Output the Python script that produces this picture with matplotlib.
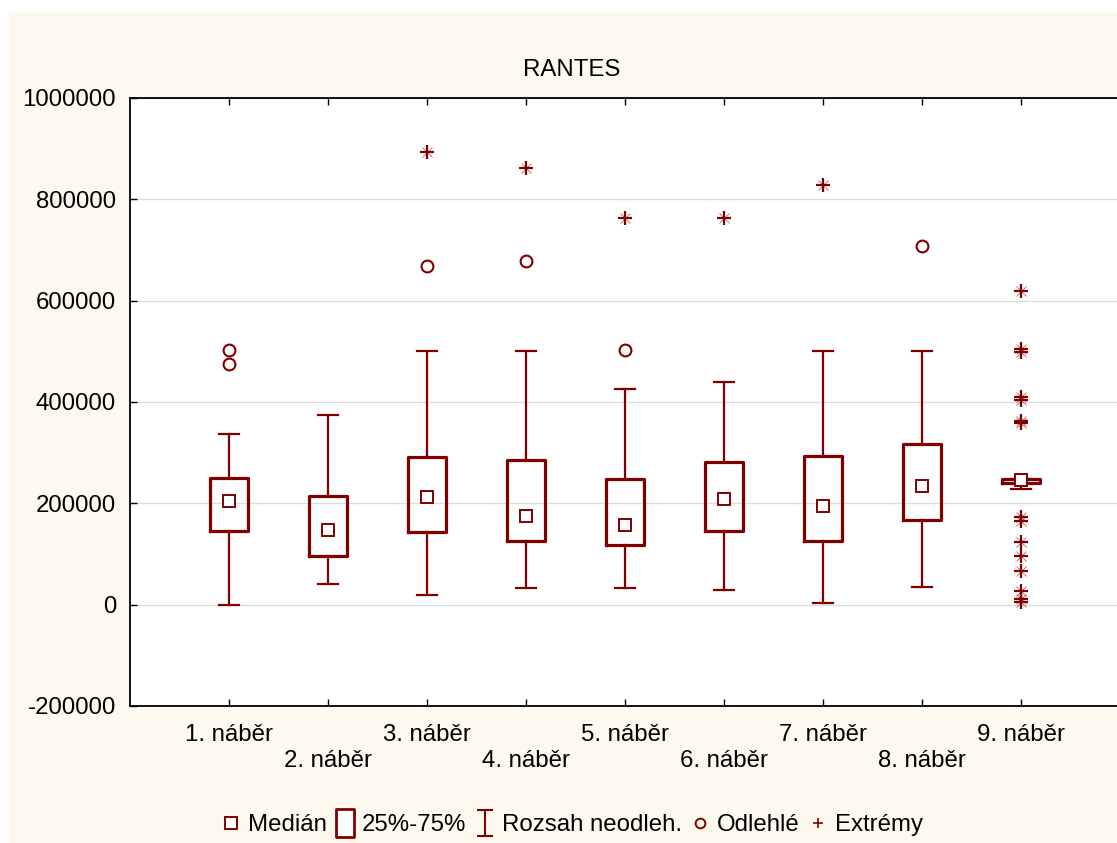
import matplotlib
matplotlib.use("Agg")
import matplotlib.pyplot as plt
from matplotlib.lines import Line2D
from matplotlib.patches import Rectangle
from matplotlib.path import Path

# ---------------- data ----------------
categories = ["1. náběr", "2. náběr", "3. náběr", "4. náběr", "5. náběr",
              "6. náběr", "7. náběr", "8. náběr", "9. náběr"]
medians = [205000, 148000, 213000, 175000, 158000, 209000, 195000, 235000, 247000]
q1 = [145000, 97000, 144000, 125000, 118000, 145000, 126000, 167000, 240000]
q3 = [250000, 214000, 292000, 285000, 249000, 282000, 293000, 318000, 249000]
whisker_low = [0, 40000, 19000, 32000, 33000, 29000, 3000, 35000, 228000]
whisker_high = [336000, 374000, 500000, 500000, 425000, 440000, 500000, 500000, 249000]
outliers = [[502000, 475000], [], [668000], [678000], [502000], [], [], [707000], []]
extremes = [[], [], [893000], [862000], [763000], [763000], [829000], [],
            [619000, 505000, 499000, 410000, 403000, 362000, 358000,
             173000, 166000, 124000, 97000, 67000, 27000, 12000, 5000]]
yticks = [-200000, 0, 200000, 400000, 600000, 800000, 1000000]
title = "RANTES"
legend_labels = ["Medián", "25%-75%", "Rozsah neodleh.", "Odlehlé", "Extrémy"]

# ---------------- style ----------------
RED = "#800000"
CREAM = "#FDF9EF"
W, H = 1117, 843
FS = 17.3
plt.rcParams["font.family"] = ["Liberation Sans", "DejaVu Sans"]
plt.rcParams["font.size"] = FS

fig = plt.figure(figsize=(W / 100, H / 100), dpi=100, facecolor="white")
fig.patches.append(Rectangle((9 / W, 0), 1 - 9 / W, 1 - 12 / H,
                             transform=fig.transFigure, facecolor=CREAM,
                             edgecolor="none", zorder=-10))

left, right, top, bottom = 130, 1120, 98, 706
ax = fig.add_axes([left / W, 1 - bottom / H, (right - left) / W, (bottom - top) / H])
ax.set_facecolor("white")

positions = list(range(1, len(categories) + 1))
stats = []
for i in range(len(categories)):
    stats.append(dict(med=medians[i], q1=q1[i], q3=q3[i], whislo=whisker_low[i],
                      whishi=whisker_high[i], mean=medians[i], fliers=[]))

ax.bxp(stats, positions=positions, widths=0.39, capwidths=0.2,
       showfliers=False, showmeans=True, patch_artist=False,
       boxprops=dict(color=RED, linewidth=2.3),
       whiskerprops=dict(color=RED, linewidth=1.6),
       capprops=dict(color=RED, linewidth=1.6),
       medianprops=dict(linewidth=0),
       meanprops=dict(marker="s", markersize=8, markerfacecolor="white",
                      markeredgecolor=RED, markeredgewidth=1.4),
       zorder=3)

for p, vals in zip(positions, outliers):
    if vals:
        ax.plot([p] * len(vals), vals, linestyle="none", marker="o", markersize=8.5,
                markerfacecolor="none", markeredgecolor=RED, markeredgewidth=1.5, zorder=4)
for p, vals in zip(positions, extremes):
    if vals:
        ax.plot([p] * len(vals), vals, linestyle="none", marker="+", markersize=9.5,
                markeredgecolor=RED, markeredgewidth=1.6, zorder=4)
        ax.plot([p] * len(vals), vals, linestyle="none", marker="x", markersize=7.5,
                markeredgecolor=RED, markeredgewidth=0.6, alpha=0.6, zorder=4)

ax.set_xlim(0, 10)
ax.set_ylim(-200000, 1000000)
ax.set_yticks(yticks)
ax.set_yticklabels([str(v) for v in yticks])
ax.set_xticks(positions)
ax.set_xticklabels(categories)
ax.yaxis.grid(True, color="#DDDDDD", linewidth=1)
ax.set_axisbelow(True)
ax.tick_params(axis="both", direction="in", length=5, width=1, colors="black",
               labelsize=FS, top=True)
ax.tick_params(axis="x", pad=13)
ax.tick_params(axis="y", pad=10)
for t in ax.xaxis.get_major_ticks()[1::2]:
    t.set_pad(32)
for s in ax.spines.values():
    s.set_linewidth(1.3)
    s.set_color("black")

fig.text(572 / W, 1 - 70 / H, title, ha="center", va="center", fontsize=FS)

# legend
rect_path = Path([(-0.34, -0.5), (0.34, -0.5), (0.34, 0.5), (-0.34, 0.5), (-0.34, -0.5)],
                 [Path.MOVETO, Path.LINETO, Path.LINETO, Path.LINETO, Path.CLOSEPOLY])
ibeam_path = Path([(-0.3, 0.5), (0.3, 0.5), (0, 0.5), (0, -0.5), (-0.3, -0.5), (0.3, -0.5)],
                  [Path.MOVETO, Path.LINETO, Path.MOVETO, Path.LINETO, Path.MOVETO, Path.LINETO])
handles = [
    Line2D([], [], linestyle="none", marker="s", markersize=8, markerfacecolor="white",
           markeredgecolor=RED, markeredgewidth=1.4),
    Line2D([], [], linestyle="none", marker=rect_path, markersize=20, markerfacecolor="white",
           markeredgecolor=RED, markeredgewidth=2.0),
    Line2D([], [], linestyle="none", marker=ibeam_path, markersize=19, markerfacecolor="none",
           markeredgecolor=RED, markeredgewidth=1.5),
    Line2D([], [], linestyle="none", marker="o", markersize=7, markerfacecolor="none",
           markeredgecolor=RED, markeredgewidth=1.4),
    Line2D([], [], linestyle="none", marker="+", markersize=7, markeredgecolor=RED,
           markeredgewidth=1.2),
]
fig.legend(handles, legend_labels, loc="center", bbox_to_anchor=(573 / W, 1 - 825 / H),
           ncol=5, frameon=False, handlelength=0.7, handletextpad=0.35,
           columnspacing=0.42, fontsize=FS)

fig.savefig("out.png", dpi=100, facecolor=fig.get_facecolor())
